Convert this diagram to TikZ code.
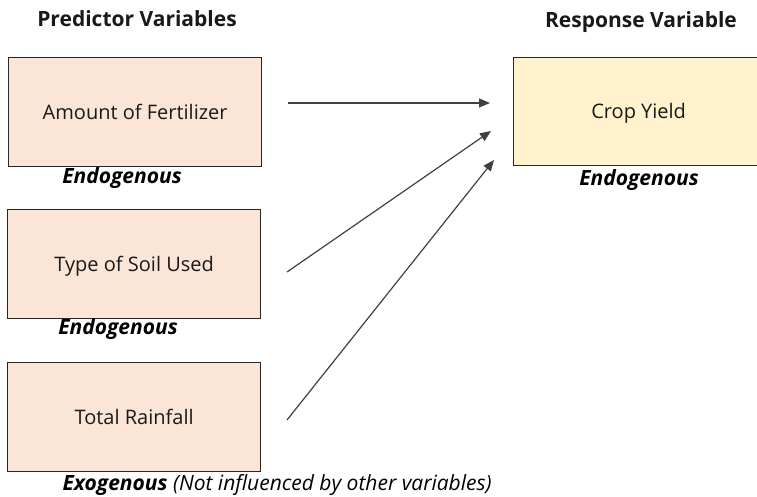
\documentclass[tikz,border=0pt]{standalone}
\usepackage{fontspec}
\setmainfont{Open Sans}
\usetikzlibrary{arrows.meta}
\definecolor{peach}{HTML}{FBE5D6}
\definecolor{cream}{HTML}{FFF2CC}
\definecolor{edge}{HTML}{262626}
\tikzset{
  var/.style={draw=edge, line width=1.3pt, minimum width=253pt, minimum height=109pt,
    anchor=north west, font=\fontsize{20}{24}\selectfont, text=black!90,
    text height=15pt, text depth=1pt},
  title/.style={font=\bfseries\fontsize{21}{24}\selectfont, text=black!90},
  kind/.style={font=\bfseries\itshape\fontsize{21}{24}\selectfont, text=black},
  link/.style={draw=black!75, line width=1.2pt, -{Triangle[length=11pt,width=9pt]}}
}
\begin{document}
\begin{tikzpicture}[x=1pt,y=-1pt]
  \useasboundingbox (0,0) rectangle (757,497);
  % column headings
  \node[title] (hp) at (137,19) {Predictor Variables};
  \node[title] (hr) at (641,22) {Response Variable};
  % predictor boxes
  \node[var, fill=peach] (fert) at (8,57) {Amount of Fertilizer};
  \node[var, fill=peach] (soil) at (7,209) {Type of Soil Used};
  \node[var, fill=peach] (rain) at (7,362) {Total Rainfall};
  % response box
  \node[var, fill=cream, minimum width=250pt, minimum height=108pt] (crop) at (513,57) {Crop Yield};
  % variable types
  \node[kind] (k1) at (122,178) {Endogenous};
  \node[kind] (k2) at (118,329) {Endogenous};
  \node[kind] (k3) at (639,180) {Endogenous};
  \node[kind, anchor=west] (k4) at (59,485) {Exogenous \mdseries(Not influenced by other variables)};
  % arrow anchors
  \coordinate (s1) at (288,103);
  \coordinate (e1) at (490,103);
  \coordinate (s2) at (287,272);
  \coordinate (e2) at (491,131);
  \coordinate (s3) at (287,420);
  \coordinate (e3) at (494,160);
  \draw[link] (s1) -- (e1);
  \draw[link] (s2) -- (e2);
  \draw[link] (s3) -- (e3);
\end{tikzpicture}
\end{document}
